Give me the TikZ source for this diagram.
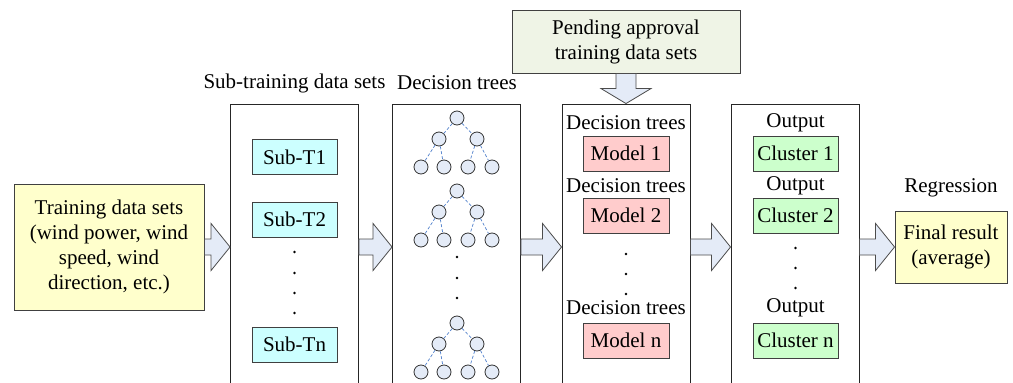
\documentclass[tikz,border=0pt]{standalone}
\usepackage{fontspec}
\setmainfont{Liberation Serif}
\usetikzlibrary{calc}
\definecolor{yellowbox}{HTML}{FFFFCC}
\definecolor{cyanbox}{HTML}{CCFFFF}
\definecolor{pinkbox}{HTML}{FFCCCC}
\definecolor{greenbox}{HTML}{CCFFCC}
\definecolor{pendfill}{HTML}{EFF4E6}
\definecolor{arrowfill}{HTML}{E4EBF7}
\definecolor{treeblue}{HTML}{4F7FCB}
\newcommand{\harrow}[2]{\draw[fatarrow] ($(#1)+(0,-8)$) -- ($(#2)+(-19,-8)$) -- ($(#2)+(-19,-23.5)$) -- (#2) -- ($(#2)+(-19,23.5)$) -- ($(#2)+(-19,8)$) -- ($(#1)+(0,8)$) -- cycle;}
\newcommand{\varrow}[2]{\draw[fatarrow] ($(#1)+(-10,0)$) -- ($(#2)+(-10,-15)$) -- ($(#2)+(-25,-15)$) -- (#2) -- ($(#2)+(25,-15)$) -- ($(#2)+(10,-15)$) -- ($(#1)+(10,0)$) -- cycle;}
\begin{document}
\begin{tikzpicture}[x=1pt,y=-1pt,font=\fontsize{21}{25}\selectfont]
	\tikzstyle{box} = [draw=black!75,line width=0.9pt,inner sep=0pt,align=center]
	\tikzstyle{panel} = [draw=black!85,line width=0.9pt,minimum width=128pt,minimum height=286pt,inner sep=0pt]
	\tikzstyle{small} = [box,minimum width=85pt,minimum height=35pt]
	\tikzstyle{leaf} = [circle,draw=black!80,fill=arrowfill,line width=0.8pt,minimum size=14pt,inner sep=0pt]
	\tikzstyle{fatarrow} = [draw=black!70,fill=arrowfill,line width=0.8pt]
	\tikzstyle{link} = [draw=treeblue,dashed,dash pattern=on 3pt off 2pt,line width=0.7pt]
	\clip (0,0) rectangle (1013,383);
	% panels, open at the bottom edge
	\node[panel](subsets)at(294.5,247){};
	\node[panel](trees)at(456.5,247){};
	\node[panel](models)at(626,247){};
	\node[panel](outputs)at(795,247){};
	\node[](subsetslabel)at(294.5,83){Sub-training data sets};
	\node[](treeslabel)at(457,83){Decision trees};
	% input, pending data and result
	\node[box,fill=yellowbox,minimum width=190pt,minimum height=126pt](train)at(109,247){Training data sets\\(wind power, wind\\speed, wind\\direction, etc.)};
	\node[box,fill=pendfill,minimum width=228pt,minimum height=63pt](pending)at(626,41.5){Pending approval\\training data sets};
	\node[box,fill=yellowbox,minimum width=112pt,minimum height=72pt](final)at(951,247){Final result\\(average)};
	\node[](regression)at(951,188){Regression};
	% sub-training sets
	\node[small,fill=cyanbox](subt1)at(294.5,157){Sub-T1};
	\node[small,fill=cyanbox](subt2)at(294.5,219.5){Sub-T2};
	\node[small,fill=cyanbox](subtn)at(294.5,344.5){Sub-Tn};
	% decision trees
	\foreach \r [count=\k] in {118,191,323}{
		\node[leaf](r\k)at(457,\r){};
		\node[leaf](a\k)at(439,\r+21){};
		\node[leaf](b\k)at(477,\r+21){};
		\node[leaf](c\k)at(421,\r+49){};
		\node[leaf](d\k)at(444,\r+49){};
		\node[leaf](e\k)at(468,\r+49){};
		\node[leaf](f\k)at(492,\r+49){};
		\draw[link] (r\k) -- (a\k) (r\k) -- (b\k)
		(a\k) -- (c\k) (a\k) -- (d\k)
		(b\k) -- (e\k) (b\k) -- (f\k);
	}
	% models
	\node[](dt1)at(626,123){Decision trees};
	\node[small,fill=pinkbox,minimum width=86pt](model1)at(626,153.5){Model 1};
	\node[](dt2)at(626,186){Decision trees};
	\node[small,fill=pinkbox,minimum width=86pt](model2)at(626,215.5){Model 2};
	\node[](dtn)at(626,308){Decision trees};
	\node[small,fill=pinkbox,minimum width=86pt](modeln)at(626,340.5){Model n};
	% outputs
	\node[](out1)at(795.5,123){Output};
	\node[small,fill=greenbox](cluster1)at(795.5,153.5){Cluster 1};
	\node[](out2)at(795.5,186){Output};
	\node[small,fill=greenbox](cluster2)at(795.5,215.5){Cluster 2};
	\node[](outn)at(795.5,308){Output};
	\node[small,fill=greenbox](clustern)at(795.5,340.5){Cluster n};
	% dots
	\foreach \y in {252,273,293,313} \fill (294.5,\y) circle (1.3);
	\foreach \y in {257,278,298} \fill (457,\y) circle (1.3);
	\foreach \y in {254,274,294} \fill (626,\y) circle (1.3);
	\foreach \y in {248,268,288} \fill (795.5,\y) circle (1.3);
	% block arrows
	\harrow{train.east}{subsets.west}
	\harrow{subsets.east}{trees.west}
	\harrow{trees.east}{models.west}
	\harrow{models.east}{outputs.west}
	\harrow{outputs.east}{final.west}
	\varrow{pending.south}{models.north}
\end{tikzpicture}
\end{document}
